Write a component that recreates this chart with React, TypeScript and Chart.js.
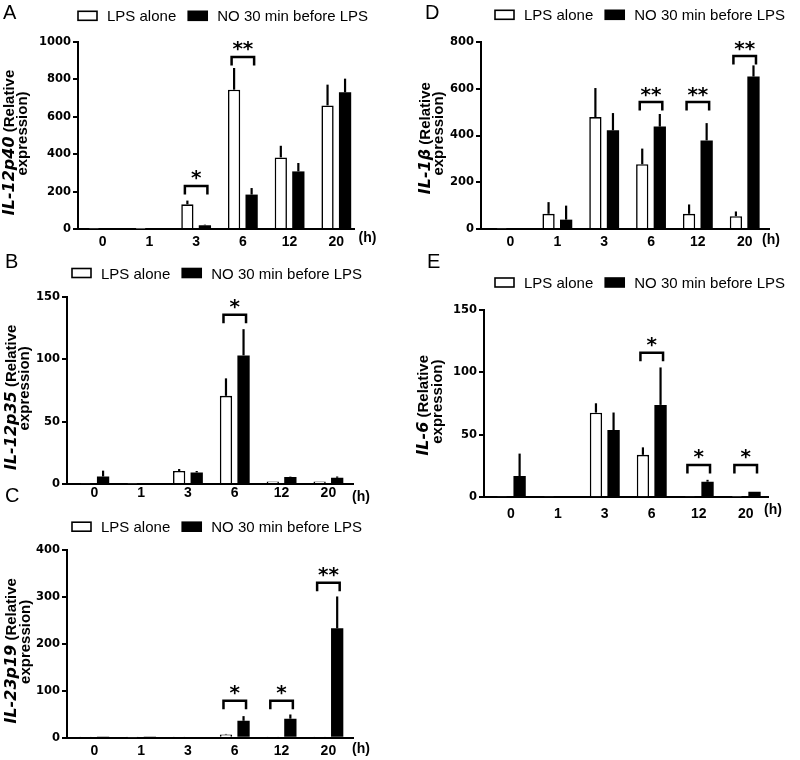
import React, { useEffect, useRef } from 'react';
import { Chart, registerables } from 'chart.js';

Chart.register(...registerables);

// ---------- data ----------
const hours = ['0', '1', '3', '6', '12', '20'];
const seriesNames = ['LPS alone', 'NO 30 min before LPS'];

// A: IL-12p40
const il12p40Lps = [2, 1, 132, 745, 383, 661];
const il12p40LpsErr = [0, 0, 20, 116, 62, 111];
const il12p40No = [4, 1, 20, 184, 308, 731];
const il12p40NoErr = [0, 0, 3, 35, 45, 73];
const il12p40Sig = ['', '', '*', '**', '', ''];
const il12p40SigLevel = [0, 0, 230, 920, 0, 0];
const il12p40Ticks = [0, 200, 400, 600, 800, 1000];

// B: IL-12p35
const il12p35Lps = [0.6, 0.5, 10.4, 70.6, 2, 2];
const il12p35LpsErr = [0, 0, 1.6, 14, 0, 0];
const il12p35No = [6, 0.5, 9.3, 103, 5.6, 5];
const il12p35NoErr = [4.7, 0, 1.1, 21, 0.3, 1];
const il12p35Sig = ['', '', '', '*', '', ''];
const il12p35SigLevel = [0, 0, 0, 135.6, 0, 0];
const il12p35Ticks = [0, 50, 100, 150];

// C: IL-23p19
const il23p19Lps = [1, 0.3, 1, 7, 0.5, 1];
const il23p19LpsErr = [0, 0, 0, 1, 0, 0];
const il23p19No = [0.3, 0.3, 2, 36, 40.5, 233];
const il23p19NoErr = [0, 0, 0, 10, 9, 68];
const il23p19Sig = ['', '', '', '*', '*', '**'];
const il23p19SigLevel = [0, 0, 0, 79, 79, 330];
const il23p19Ticks = [0, 100, 200, 300, 400];

// D: IL-1beta
const il1bLps = [2, 65, 479, 277, 65, 55];
const il1bLpsErr = [0, 50, 124, 67, 40, 20];
const il1bNo = [3, 40, 422, 438, 379, 652];
const il1bNoErr = [0, 60, 74, 54, 74, 48];
const il1bSig = ['', '', '', '**', '**', '**'];
const il1bSigLevel = [0, 0, 0, 543, 543, 740];
const il1bTicks = [0, 200, 400, 600, 800];

// E: IL-6
const il6Lps = [0.6, 0.6, 67.8, 34, 0.6, 0.3];
const il6LpsErr = [0, 0, 7.5, 6, 0, 0];
const il6No = [17, 0.3, 53.9, 74, 12.5, 4.5];
const il6NoErr = [18, 0, 14, 30, 1.5, 0];
const il6Sig = ['', '', '', '*', '*', '*'];
const il6SigLevel = [0, 0, 0, 115.8, 25.9, 25.9];
const il6Ticks = [0, 50, 100, 150];

// ---------- layout ----------
const W = 800;
const H = 760;
const Y_AXIS_W = 45;
const X_AXIS_H = 22;
const SANS = '"Liberation Sans", Arial, Helvetica, sans-serif';
const WIDE = '"DejaVu Sans", Verdana, sans-serif';

type PanelCfg = {
  letter: string;
  gene: string;
  lps: number[]; lpsErr: number[]; no: number[]; noErr: number[];
  sig: string[]; sigLevel: number[]; yTicks: number[];
  left: number; right: number; top: number; bottom: number;
  firstCenter: number; lastCenter: number;
  letterX: number; letterY: number;
  legendX: number; legendY: number;
  titleX: number;
  unitX: number; unitY: number;
  xPad: number;
};

const panels: PanelCfg[] = [
  {
    letter: 'A', gene: 'IL-12p40',
    lps: il12p40Lps, lpsErr: il12p40LpsErr, no: il12p40No, noErr: il12p40NoErr,
    sig: il12p40Sig, sigLevel: il12p40SigLevel, yTicks: il12p40Ticks,
    left: 78, right: 354, top: 42, bottom: 229, firstCenter: 102.7, lastCenter: 336.3,
    letterX: 3, letterY: 11.5, legendX: 78, legendY: 15.8, titleX: 9.5,
    unitX: 367.5, unitY: 237.5, xPad: 4.5,
  },
  {
    letter: 'B', gene: 'IL-12p35',
    lps: il12p35Lps, lpsErr: il12p35LpsErr, no: il12p35No, noErr: il12p35NoErr,
    sig: il12p35Sig, sigLevel: il12p35SigLevel, yTicks: il12p35Ticks,
    left: 67, right: 353, top: 296.7, bottom: 484, firstCenter: 94.3, lastCenter: 328.4,
    letterX: 5, letterY: 260.5, legendX: 72, legendY: 273, titleX: 11.5,
    unitX: 361, unitY: 496.7, xPad: 1,
  },
  {
    letter: 'C', gene: 'IL-23p19',
    lps: il23p19Lps, lpsErr: il23p19LpsErr, no: il23p19No, noErr: il23p19NoErr,
    sig: il23p19Sig, sigLevel: il23p19SigLevel, yTicks: il23p19Ticks,
    left: 67, right: 353, top: 550, bottom: 737.7, firstCenter: 94.3, lastCenter: 328.4,
    letterX: 5, letterY: 495, legendX: 72, legendY: 526.7, titleX: 12,
    unitX: 361, unitY: 749, xPad: 4.8,
  },
  {
    letter: 'D', gene: 'IL-1\u03B2',
    lps: il1bLps, lpsErr: il1bLpsErr, no: il1bNo, noErr: il1bNoErr,
    sig: il1bSig, sigLevel: il1bSigLevel, yTicks: il1bTicks,
    left: 481, right: 769, top: 42, bottom: 229, firstCenter: 510.5, lastCenter: 744.7,
    letterX: 425, letterY: 11.5, legendX: 495, legendY: 14.8, titleX: 425.5,
    unitX: 771, unitY: 240, xPad: 5,
  },
  {
    letter: 'E', gene: 'IL-6',
    lps: il6Lps, lpsErr: il6LpsErr, no: il6No, noErr: il6NoErr,
    sig: il6Sig, sigLevel: il6SigLevel, yTicks: il6Ticks,
    left: 484, right: 768, top: 310, bottom: 497.3, firstCenter: 510.8, lastCenter: 745.7,
    letterX: 427, letterY: 260.5, legendX: 495, legendY: 282.5, titleX: 424,
    unitX: 773, unitY: 510, xPad: 8.5,
  },
];

function fillCentered(ctx: CanvasRenderingContext2D, text: string, x: number, cy: number, align: CanvasTextAlign) {
  ctx.textAlign = align;
  ctx.textBaseline = 'alphabetic';
  const m = ctx.measureText(text);
  ctx.fillText(text, x, cy + (m.actualBoundingBoxAscent - m.actualBoundingBoxDescent) / 2);
}

function makeDecoPlugin(cfg: PanelCfg) {
  return {
    id: 'deco' + cfg.letter,
    afterDatasetsDraw(chart: any) {
      const ctx: CanvasRenderingContext2D = chart.ctx;
      const ys = chart.scales.y;
      ctx.save();
      ctx.strokeStyle = '#000';
      ctx.lineWidth = 2.2;
      ctx.lineCap = 'butt';
      const pairs: [number[], number[]][] = [[cfg.lps, cfg.lpsErr], [cfg.no, cfg.noErr]];
      pairs.forEach(([vals, errs], di) => {
        const meta = chart.getDatasetMeta(di);
        meta.data.forEach((bar: any, i: number) => {
          if (!errs[i]) return;
          const yTop = bar.y;
          const yErr = ys.getPixelForValue(vals[i] + errs[i]);
          ctx.beginPath();
          ctx.moveTo(bar.x, yTop);
          ctx.lineTo(bar.x, yErr);
          ctx.stroke();
        });
      });
      // significance brackets
      const m0 = chart.getDatasetMeta(0);
      const m1 = chart.getDatasetMeta(1);
      cfg.sig.forEach((s, i) => {
        if (!s) return;
        const xl = m0.data[i].x - 2.5;
        const xr = m1.data[i].x + 2.5;
        const yb = ys.getPixelForValue(cfg.sigLevel[i]);
        ctx.lineWidth = 2.5;
        ctx.lineJoin = 'miter';
        ctx.beginPath();
        ctx.moveTo(xl, yb + 8.5);
        ctx.lineTo(xl, yb);
        ctx.lineTo(xr, yb);
        ctx.lineTo(xr, yb + 8.5);
        ctx.stroke();
        ctx.fillStyle = '#000';
        ctx.font = 'bold 20px ' + WIDE;
        fillCentered(ctx, s, (xl + xr) / 2, yb - 10.5, 'center');
      });
      ctx.restore();
    },
    afterDraw(chart: any) {
      const ctx: CanvasRenderingContext2D = chart.ctx;
      ctx.save();
      ctx.fillStyle = '#000';
      // panel letter
      ctx.font = '20px ' + SANS;
      fillCentered(ctx, cfg.letter, cfg.letterX, cfg.letterY, 'left');
      // legend
      ctx.font = '15px ' + SANS;
      let x = cfg.legendX;
      const bw = 19;
      const bh = 9;
      chart.data.datasets.forEach((ds: any) => {
        ctx.fillStyle = ds.backgroundColor;
        ctx.fillRect(x, cfg.legendY - bh / 2, bw, bh);
        ctx.strokeStyle = '#000';
        ctx.lineWidth = 1.6;
        ctx.strokeRect(x, cfg.legendY - bh / 2, bw, bh);
        x += bw + 10;
        ctx.fillStyle = '#000';
        fillCentered(ctx, ds.label, x, cfg.legendY, 'left');
        x += ctx.measureText(ds.label).width + 12;
      });
      // y title (rotated, two lines)
      const cy = (cfg.top + cfg.bottom) / 2 - 2;
      const rest = ' (Relative';
      ctx.font = 'italic bold 15px ' + SANS;
      const gW = ctx.measureText(cfg.gene).width;
      ctx.font = 'bold 15px ' + SANS;
      const rW = ctx.measureText(rest).width;
      const join = -(gW + rW) / 2 + gW;
      ctx.save();
      ctx.translate(cfg.titleX, cy);
      ctx.rotate(-Math.PI / 2);
      ctx.textBaseline = 'middle';
      ctx.textAlign = 'left';
      ctx.fillText(rest, join, 0);
      ctx.font = 'italic bold 16px ' + WIDE;
      ctx.textAlign = 'right';
      ctx.fillText(cfg.gene, join, 0);
      ctx.restore();
      ctx.save();
      ctx.translate(cfg.titleX + 13.5, cy);
      ctx.rotate(-Math.PI / 2);
      ctx.font = 'bold 15px ' + SANS;
      ctx.textBaseline = 'middle';
      ctx.textAlign = 'center';
      ctx.fillText('expression)', 0, 0);
      ctx.restore();
      // unit
      ctx.font = 'bold 14px ' + SANS;
      fillCentered(ctx, '(h)', cfg.unitX, cfg.unitY, 'center');
      ctx.restore();
    },
  };
}

function buildConfig(cfg: PanelCfg): any {
  const n = hours.length;
  const spacing = (cfg.lastCenter - cfg.firstCenter) / (n - 1);
  const xMin = -(cfg.firstCenter - cfg.left) / spacing;
  const xMax = n - 1 + (cfg.right - cfg.lastCenter) / spacing;
  const yMax = cfg.yTicks[cfg.yTicks.length - 1];
  return {
    type: 'bar',
    data: {
      datasets: [
        {
          label: seriesNames[0],
          data: cfg.lps.map((v, i) => ({ x: i, y: v })),
          backgroundColor: '#ffffff',
          borderColor: '#000000',
          borderWidth: 1.6,
          categoryPercentage: 0.75,
          barPercentage: 0.7,
        },
        {
          label: seriesNames[1],
          data: cfg.no.map((v, i) => ({ x: i, y: v })),
          backgroundColor: '#000000',
          borderColor: '#000000',
          borderWidth: 0,
          categoryPercentage: 0.75,
          barPercentage: 0.7,
        },
      ],
    },
    options: {
      responsive: false,
      animation: false,
      events: [],
      layout: {
        padding: {
          left: cfg.left - Y_AXIS_W,
          right: W - cfg.right,
          top: cfg.top,
          bottom: H - cfg.bottom - X_AXIS_H,
        },
      },
      plugins: { legend: { display: false }, tooltip: { enabled: false } },
      scales: {
        x: {
          type: 'linear',
          min: xMin,
          max: xMax,
          offset: false,
          z: 1,
          afterFit: (s: any) => { s.height = X_AXIS_H; },
          afterBuildTicks: (s: any) => { s.ticks = hours.map((_, i) => ({ value: i })); },
          ticks: {
            callback: (v: number) => hours[v] ?? '',
            font: { family: SANS, size: 14, weight: 'bold' },
            color: '#000',
            padding: cfg.xPad,
            autoSkip: false,
            maxRotation: 0,
          },
          grid: { display: false, drawTicks: false, tickLength: 0 },
          border: { display: true, color: '#000', width: 2 },
        },
        y: {
          min: 0,
          max: yMax,
          z: 1,
          afterFit: (s: any) => { s.width = Y_AXIS_W; },
          afterBuildTicks: (s: any) => { s.ticks = cfg.yTicks.map((v) => ({ value: v })); },
          ticks: {
            callback: (v: number) => String(v),
            font: { family: WIDE, size: 11.5, weight: 'bold' },
            color: '#000',
            padding: 2,
          },
          grid: { drawOnChartArea: false, drawTicks: true, tickLength: 5, color: '#000', lineWidth: 2 },
          border: { display: true, color: '#000', width: 2 },
        },
      },
    },
    plugins: [makeDecoPlugin(cfg)],
  };
}

function Panel({ cfg }: { cfg: PanelCfg }) {
  const ref = useRef<HTMLCanvasElement>(null);
  useEffect(() => {
    if (!ref.current) return;
    const chart = new Chart(ref.current, buildConfig(cfg));
    return () => chart.destroy();
  }, [cfg]);
  return (
    <canvas
      ref={ref}
      width={W}
      height={H}
      style={{ position: 'absolute', left: 0, top: 0, width: W, height: H }}
    />
  );
}

export default function App() {
  return (
    <div style={{ position: 'absolute', left: 0, top: 0, width: W, height: H, background: '#fff', overflow: 'hidden' }}>
      {panels.map((p) => (
        <Panel key={p.letter} cfg={p} />
      ))}
    </div>
  );
}
